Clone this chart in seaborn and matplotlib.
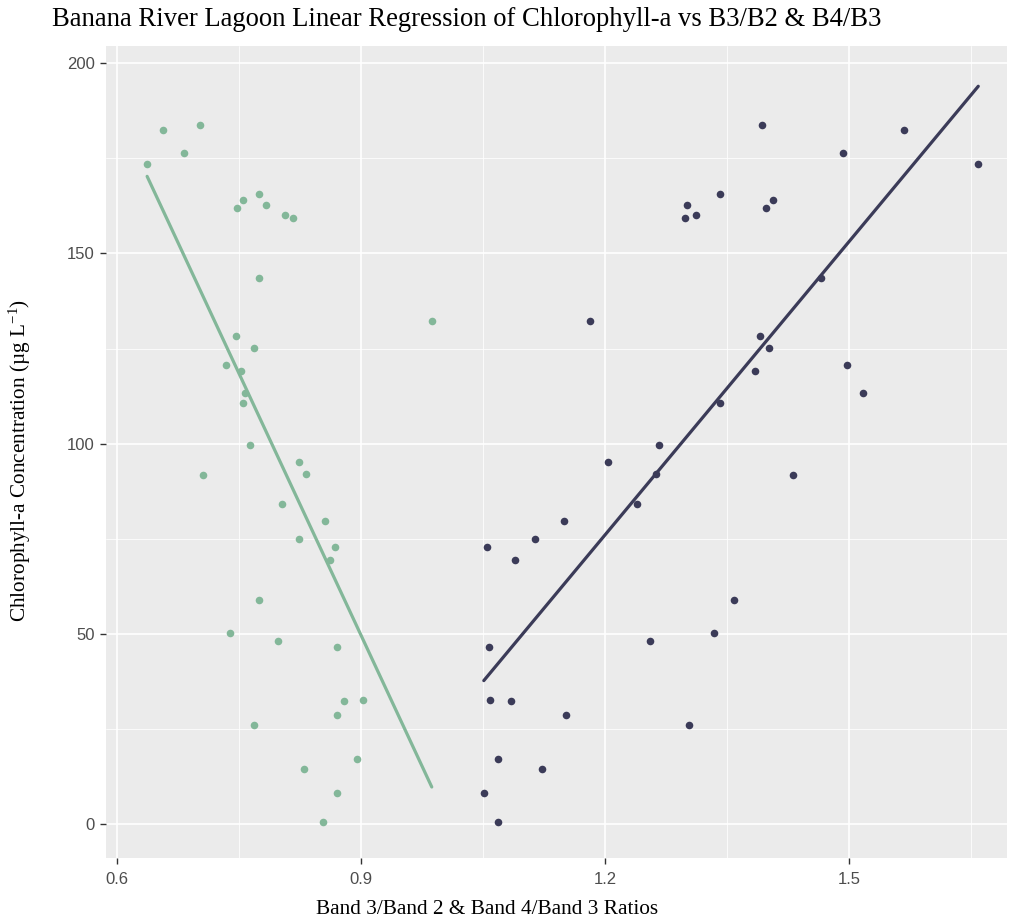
import matplotlib
matplotlib.use("Agg")
import matplotlib.pyplot as plt
import seaborn as sns
import numpy as np
from matplotlib.ticker import MultipleLocator

# Data
chl = [173.5, 182.4, 183.7, 176.4, 162.0, 164.1, 165.6, 162.8, 160.2, 159.4,
       143.6, 132.3, 128.4, 125.1, 120.8, 119.1, 113.2, 110.6, 99.7, 95.1,
       92.0, 91.7, 84.1, 79.7, 74.9, 72.9, 69.4, 58.9, 50.3, 48.2,
       46.6, 32.3, 32.7, 28.6, 26.0, 17.0, 14.6, 8.2, 0.5]
b3_b2 = [0.637, 0.657, 0.702, 0.682, 0.747, 0.755, 0.774, 0.783, 0.806, 0.816,
         0.774, 0.987, 0.746, 0.769, 0.734, 0.752, 0.757, 0.755, 0.764, 0.824,
         0.832, 0.706, 0.803, 0.856, 0.824, 0.868, 0.862, 0.774, 0.739, 0.798,
         0.870, 0.879, 0.903, 0.871, 0.768, 0.895, 0.830, 0.870, 0.853]
b4_b3 = [1.659, 1.568, 1.393, 1.493, 1.398, 1.407, 1.342, 1.301, 1.312, 1.298,
         1.466, 1.181, 1.391, 1.402, 1.498, 1.385, 1.517, 1.342, 1.266, 1.204,
         1.263, 1.431, 1.239, 1.150, 1.114, 1.055, 1.089, 1.359, 1.334, 1.255,
         1.057, 1.085, 1.059, 1.152, 1.303, 1.068, 1.123, 1.051, 1.069]

x_ticks = [0.6, 0.9, 1.2, 1.5]
y_ticks = [0, 50, 100, 150, 200]

title = "Banana River Lagoon Linear Regression of Chlorophyll-a vs B3/B2 & B4/B3"
xlabel = "Band 3/Band 2 & Band 4/Band 3 Ratios"
ylabel = r"Chlorophyll-a Concentration (µg L$^{\mathregular{-1}}$)"

green = "#83B799"
navy = "#3B3B58"

sns.set_theme(style="darkgrid", rc={
    "axes.facecolor": "#EBEBEB",
    "grid.color": "white",
    "axes.edgecolor": "#EBEBEB",
})
plt.rcParams["font.family"] = ["Liberation Serif", "DejaVu Serif"]
plt.rcParams["mathtext.fontset"] = "custom"
plt.rcParams["mathtext.rm"] = "Liberation Serif"
plt.rcParams["mathtext.it"] = "Liberation Serif:italic"

fig = plt.figure(figsize=(10.09, 9.21), dpi=100)
ax = fig.add_axes([0.1051, 0.0684, 0.8929, 0.8816])

sns.regplot(x=b3_b2, y=chl, ci=None, color=green, ax=ax,
            scatter_kws=dict(s=30, linewidths=0, alpha=1, zorder=3),
            line_kws=dict(lw=2.3, zorder=4))
sns.regplot(x=b4_b3, y=chl, ci=None, color=navy, ax=ax,
            scatter_kws=dict(s=30, linewidths=0, alpha=1, zorder=3),
            line_kws=dict(lw=2.3, zorder=4))

ax.set_xlim(0.5865, 1.6943)
ax.set_ylim(-8.9, 204.5)
ax.set_xticks(x_ticks)
ax.set_xticklabels([f"{v:g}" for v in x_ticks])
ax.set_yticks(y_ticks)
ax.xaxis.set_minor_locator(MultipleLocator(0.15))
ax.yaxis.set_minor_locator(MultipleLocator(25))
ax.grid(which="major", color="white", lw=1.2)
ax.grid(which="minor", color="white", lw=0.6, alpha=0.9)
ax.set_axisbelow(True)
for s in ax.spines.values():
    s.set_visible(False)

ax.tick_params(axis="both", which="major", length=4, width=1, color="#333333",
               labelcolor="#4D4D4D", labelsize=12, pad=4, bottom=True, left=True)
ax.tick_params(axis="x", which="major", pad=6)
ax.tick_params(axis="both", which="minor", length=0)
for lbl in ax.get_xticklabels() + ax.get_yticklabels():
    lbl.set_family(["Liberation Sans", "DejaVu Sans"])

ax.set_xlabel(xlabel, fontsize=15.3, color="black", va="center")
ax.xaxis.set_label_coords(0.423, -0.064)
ax.set_ylabel(ylabel, fontsize=15.3, color="black", va="center")
ax.yaxis.set_label_coords(-0.0954, 0.49)
fig.text(0.052, 0.979, title, fontsize=19.2, color="black", ha="left", va="center")

fig.savefig("out.png", dpi=100)
